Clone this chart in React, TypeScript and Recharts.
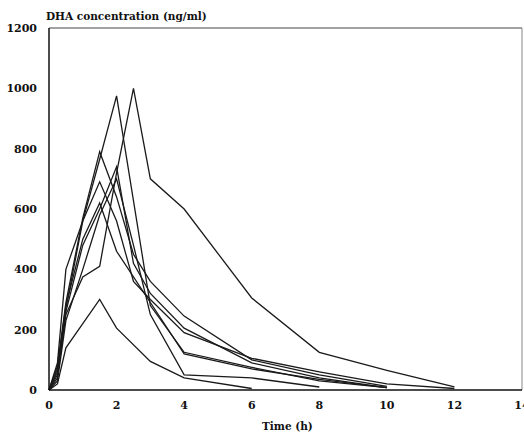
import { LineChart, Line, XAxis, YAxis, ReferenceLine } from "recharts";

// Sampling times (h)
const times = [0, 0.25, 0.5, 1, 1.5, 2, 2.5, 3, 4, 6, 8, 10, 12];

// DHA concentration (ng/ml) per subject, null = not sampled
const subjA = [0, 60, 250, 375, 410, 720, 1000, 700, 600, 305, 125, 65, 10];
const subjB = [0, 50, 270, 560, 765, 975, null, 280, 125, 75, 30, 8, null];
const subjC = [0, 80, 290, 570, 790, 640, 450, 360, 245, 100, 50, 12, null];
const subjD = [0, 40, 260, 480, 600, 740, 420, 320, 205, 90, 40, 8, null];
const subjE = [0, 90, 400, 560, 690, 560, 360, 300, 190, 105, 60, 20, 5];
const subjF = [0, 70, 280, 500, 620, 460, null, 290, 120, 70, 35, 8, null];
const subjG = [0, 20, 140, 220, 300, 205, null, 95, 40, 5, null, null, null];
const subjH = [0, 30, 230, 400, 580, 700, 480, 250, 50, 40, 10, null, null];

const xTicks = [0, 2, 4, 6, 8, 10, 12, 14];
const yTicks = [0, 200, 400, 600, 800, 1000, 1200];

const series = { A: subjA, B: subjB, C: subjC, D: subjD, E: subjE, F: subjF, G: subjG, H: subjH };

const data = times.map((t, i) => {
  const row: Record<string, number | null> = { t };
  for (const [k, arr] of Object.entries(series)) row[k] = arr[i];
  return row;
});

const FONT = "'DejaVu Serif', serif";
const tickStyle = { fontFamily: FONT, fontSize: 11, fontWeight: 700, fill: "#111" };

export default function App() {
  return (
    <div style={{ position: "relative", width: 524, height: 433, background: "#fff" }}>
      <style>{"body{margin:0}"}</style>
      <div
        style={{
          position: "absolute",
          left: 46,
          top: 10,
          fontFamily: FONT,
          fontSize: 10.5,
          fontWeight: 700,
          color: "#111",
          whiteSpace: "nowrap",
        }}
      >
        DHA concentration (ng/ml)
      </div>
      <div
        style={{
          position: "absolute",
          left: 262,
          top: 420,
          fontFamily: FONT,
          fontSize: 10.5,
          fontWeight: 700,
          color: "#111",
          whiteSpace: "nowrap",
        }}
      >
        Time (h)
      </div>
      <LineChart
        width={524}
        height={433}
        data={data}
        margin={{ top: 28, right: 2, left: 0, bottom: 0 }}
      >
        <XAxis
          dataKey="t"
          type="number"
          domain={[0, 14]}
          ticks={xTicks}
          tickLine={false}
          tickSize={0}
          tickMargin={11}
          height={43}
          axisLine={{ stroke: "#111", strokeWidth: 1.5 }}
          tick={tickStyle}
          interval={0}
        />
        <YAxis
          type="number"
          domain={[0, 1200]}
          ticks={yTicks}
          tickLine={false}
          tickSize={0}
          tickMargin={12}
          width={49}
          axisLine={{ stroke: "#111", strokeWidth: 1.5 }}
          tick={tickStyle}
          interval={0}
        />
        <ReferenceLine y={1200} stroke="#444" strokeWidth={1} />
        <ReferenceLine x={14} stroke="#888" strokeWidth={1} />
        {Object.keys(series).map((k) => (
          <Line
            key={k}
            dataKey={k}
            type="linear"
            stroke="#1a1a1a"
            strokeWidth={1.3}
            dot={false}
            connectNulls
            isAnimationActive={false}
          />
        ))}
      </LineChart>
    </div>
  );
}
